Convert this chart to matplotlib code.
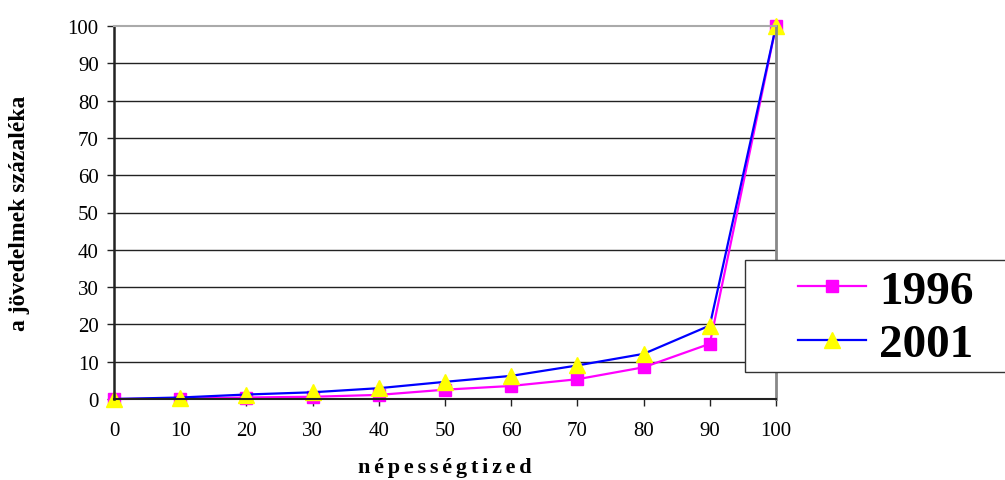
import matplotlib.pyplot as plt
from matplotlib.patches import Rectangle

# x: népességtized (decile), y: cumulative share of income
tized = [0, 10, 20, 30, 40, 50, 60, 70, 80, 90, 100]
ev_1996 = [0, 0.1, 0.4, 0.6, 1.1, 2.5, 3.5, 5.3, 8.5, 14.8, 100]
ev_2001 = [0, 0.4, 1.2, 1.8, 2.9, 4.6, 6.2, 9.0, 12.1, 19.7, 100]
yticks = list(range(0, 101, 10))

plt.rcParams['font.family'] = ['Liberation Serif', 'DejaVu Serif']


def main():
    fig = plt.figure(figsize=(10.05, 4.81), dpi=100)
    ax = fig.add_axes([114 / 1005, 1 - 400 / 481, 662 / 1005, 373 / 481])

    ax.plot(tized, ev_1996, color="#ff00ff", lw=1.6, marker="s",
            markersize=9, markerfacecolor="#ff00ff",
            markeredgecolor="#ff00ff", label="1996", clip_on=False)
    ax.plot(tized, ev_2001, color="#0000ff", lw=1.6, marker="^",
            markersize=12, markerfacecolor="#ffff00",
            markeredgecolor="#ffff00", label="2001", clip_on=False)

    ax.set_xlim(0, 100)
    ax.set_ylim(0, 100)
    ax.set_xticks(tized)
    ax.set_yticks(yticks)
    ax.tick_params(axis="both", direction="out", length=5, width=1,
                   labelsize=15, color="#222222")
    ax.tick_params(axis="x", pad=11)
    ax.tick_params(axis="y", pad=6)

    for y in yticks[1:-1]:
        ax.axhline(y, color="#222222", lw=1, zorder=0)

    ax.spines["left"].set_linewidth(1.8)
    ax.spines["left"].set_color("#222222")
    ax.spines["bottom"].set_linewidth(1.5)
    ax.spines["bottom"].set_color("#222222")
    ax.spines["top"].set_color("#aaaaaa")
    ax.spines["top"].set_linewidth(1.5)
    ax.spines["right"].set_color("#888888")
    ax.spines["right"].set_linewidth(2)

    ax.set_xlabel("\u2006".join("népességtized"),
                  fontsize=16, fontweight="bold")
    ax.xaxis.set_label_coords(0.5, -0.155)
    ax.set_ylabel("a jövedelmek százaléka", fontsize=17,
                  fontweight="bold")
    ax.yaxis.set_label_coords(-0.127, 0.5)

    # legend box runs off the right edge, like in the original
    fig.patches.append(Rectangle((745 / 1005, 1 - 373 / 481),
                                 270 / 1005, 112 / 481,
                                 transform=fig.transFigure,
                                 facecolor="white", edgecolor="#333333",
                                 lw=1, zorder=5))
    leg = fig.legend(loc="center left",
                     bbox_to_anchor=(798 / 1005, 1 - 319 / 481),
                     prop={"weight": "bold", "size": 34},
                     frameon=False, handlelength=1.45,
                     borderpad=0, labelspacing=0.22, handletextpad=0.27,
                     borderaxespad=0)
    leg.set_zorder(6)

    fig.savefig("out.png", dpi=100)


if __name__ == "__main__":
    main()
